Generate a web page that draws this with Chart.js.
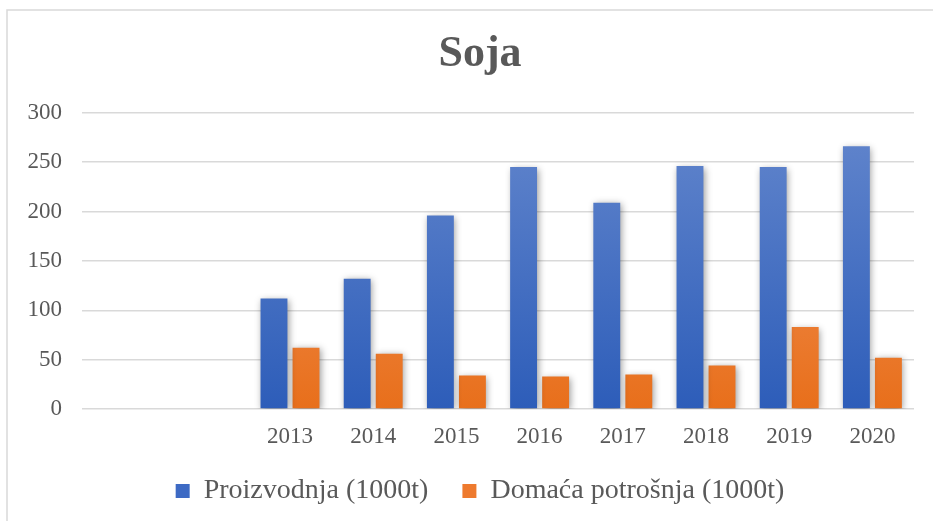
<!DOCTYPE html>
<html>
<head>
<meta charset="utf-8">
<script src="https://cdn.jsdelivr.net/npm/chart.js@4.4.1/dist/chart.umd.min.js"></script>
<style>
  html, body { margin: 0; padding: 0; background: #ffffff; overflow: hidden; }
  #wrap { position: relative; width: 933px; height: 521px; overflow: hidden; }
</style>
</head>
<body>
<div id="wrap"><canvas id="c" width="960" height="521"></canvas></div>
<script>
const categories = ['', '', '2013', '2014', '2015', '2016', '2017', '2018', '2019', '2020'];
const proizvodnja = [null, null, 112, 132, 196, 245, 209, 246, 245, 266];
const potrosnja = [null, null, 62, 56, 34, 33, 35, 44, 83, 52];
const seriesNames = ['Proizvodnja (1000t)', 'Domaća potrošnja (1000t)'];
const titleText = 'Soja';
const yTicks = [0, 50, 100, 150, 200, 250, 300];

const FONT = "'Liberation Serif', 'Times New Roman', serif";
const TEXT = '#595959';
const GRID = '#d9d9d9';

function grad(ctx, top, bottom) {
  const chart = ctx.chart;
  const area = chart.chartArea;
  if (!area) return bottom;
  const g = chart.ctx.createLinearGradient(0, area.top, 0, area.bottom);
  g.addColorStop(0, top);
  g.addColorStop(1, bottom);
  return g;
}

const framePlugin = {
  id: 'frame',
  beforeDraw(chart) {
    const c = chart.ctx;
    c.save();
    c.strokeStyle = GRID;
    c.lineWidth = 1.5;
    c.beginPath();
    c.moveTo(7, 540);
    c.lineTo(7, 10);
    c.lineTo(953, 10);
    c.lineTo(953, 540);
    c.stroke();
    c.restore();
  }
};

const shadowPlugin = {
  id: 'barShadow',
  beforeDatasetsDraw(chart) {
    const c = chart.ctx;
    c.save();
    c.shadowColor = 'rgba(0,0,0,0.4)';
    c.shadowBlur = 7;
    c.shadowOffsetX = 1.5;
    c.shadowOffsetY = 1.5;
  },
  afterDatasetsDraw(chart) {
    chart.ctx.restore();
  }
};

new Chart(document.getElementById('c'), {
  type: 'bar',
  data: {
    labels: categories,
    datasets: [
      {
        label: seriesNames[0],
        data: proizvodnja,
        backgroundColor: (ctx) => grad(ctx, '#6487cd', '#2d5db9'),
        borderWidth: 0,
        categoryPercentage: 0.77,
        barPercentage: 0.84
      },
      {
        label: seriesNames[1],
        data: potrosnja,
        backgroundColor: (ctx) => grad(ctx, '#f39b68', '#e86f1b'),
        borderWidth: 0,
        categoryPercentage: 0.77,
        barPercentage: 0.84
      }
    ]
  },
  options: {
    responsive: false,
    animation: false,
    layout: { padding: { left: 0, right: 0, top: 0, bottom: 6 } },
    plugins: {
      title: {
        display: true,
        text: titleText,
        color: TEXT,
        font: { family: FONT, size: 44, weight: 'bold' },
        padding: { top: 28, bottom: 32 }
      },
      legend: {
        display: true,
        position: 'bottom',
        labels: {
          color: TEXT,
          font: { family: FONT, size: 28 },
          boxWidth: 14,
          boxHeight: 14,
          padding: 34,
          generateLabels(chart) {
            return chart.data.datasets.map((ds, i) => ({
              text: ds.label,
              fillStyle: i === 0 ? '#3d6ac4' : '#ee7a2e',
              strokeStyle: 'rgba(0,0,0,0)',
              lineWidth: 0,
              fontColor: TEXT,
              hidden: false,
              datasetIndex: i
            }));
          }
        }
      },
      tooltip: { enabled: false }
    },
    scales: {
      x: {
        afterFit(scale) { scale.height = 34; },
        grid: { display: false, drawTicks: false },
        border: { display: false },
        ticks: {
          color: TEXT,
          font: { family: FONT, size: 23 },
          padding: 14,
          maxRotation: 0,
          autoSkip: false
        }
      },
      y: {
        min: 0,
        max: 300,
        afterFit(scale) { scale.width = 82; },
        afterBuildTicks(scale) { scale.ticks = yTicks.map(v => ({ value: v })); },
        grid: { color: GRID, lineWidth: 1.5, drawTicks: false },
        border: { display: false },
        ticks: {
          color: TEXT,
          font: { family: FONT, size: 23 },
          padding: 20
        }
      },
      yR: {
        position: 'right',
        min: 0,
        max: 300,
        afterFit(scale) { scale.width = 46; },
        grid: { display: false, drawOnChartArea: false, drawTicks: false },
        border: { display: false },
        ticks: { display: false }
      }
    }
  },
  plugins: [framePlugin, shadowPlugin]
});
</script>
</body>
</html>
